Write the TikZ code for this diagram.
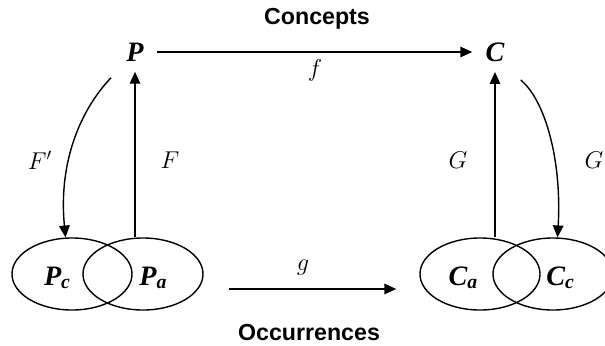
\documentclass[tikz,border=0pt]{standalone}
\usepackage{fontspec}
\setmainfont{Liberation Serif}
\newfontfamily\headfont{Liberation Sans}
\usepackage{tikz}
\usetikzlibrary{arrows.meta,shapes.geometric}
\newcommand{\lowsub}[1]{{\fontsize{14}{14}\selectfont\raisebox{-2.5pt}{#1}}}

\begin{document}
\begin{tikzpicture}[x=0.025cm,y=-0.025cm,line width=1pt,
  >={Triangle[length=8.5pt,width=7.5pt]},
  vtx/.style={font=\fontsize{20}{22}\selectfont\bfseries\itshape,inner xsep=9pt,inner ysep=7pt},
  sub/.style={font=\fontsize{20}{22}\selectfont\bfseries\itshape,anchor=base,inner sep=0pt},
  blob/.style={draw,ellipse,minimum width=3cm,minimum height=1.8cm,inner sep=0pt},
  mlab/.style={font=\fontsize{17}{20}\selectfont},
  head/.style={font=\fontsize{16.5}{20}\selectfont\headfont\bfseries}]
\useasboundingbox (0,0) rectangle (605,345);
% top row
\node[vtx] (P) at (135,52) {P};
\node[vtx] (C) at (495,52) {C};
\draw[->] (P.east) -- (C.west);
\node[head] (concepts) at (317,19) {Concepts};
\node[mlab] (f) at (315,70) {$f$};
% bottom row
\node[blob] (Pc) at (72,274) {};
\node[blob] (Pa) at (143,274) {};
\node[blob] (Ca) at (480,274) {};
\node[blob] (Cc) at (553,274) {};
\node[sub] (pc) at (57,285) {P\lowsub{c}};
\node[sub] (pa) at (153,285) {P\lowsub{a}};
\node[sub] (ca) at (463,285) {C\lowsub{a}};
\node[sub] (cc) at (560,285) {C\lowsub{c}};
\draw[->] ([shift={(25,15)}]Pa.east) -- ([shift={(-23,15)}]Ca.west);
\node[mlab] (g) at (303,268) {$g$};
\node[head] (occ) at (309,333) {Occurrences};
% vertical maps
\draw[->] (P |- Pa.north) -- (P.south);
\draw[->] (C |- Ca.north) -- (C.south);
\draw[->] ([shift={(-2,6)}]P.south west) .. controls (82,108) and (58,160) .. (Pc.100);
\draw[->] ([shift={(3,8)}]C.south east) .. controls (545,100) and (562,160) .. (Cc.83);
\node[mlab] (Fp) at (40,160) {$F'$};
\node[mlab] (F) at (170,160) {$F$};
\node[mlab] (G1) at (458,160) {$G$};
\node[mlab] (G2) at (594,160) {$G$};
\end{tikzpicture}
\end{document}
